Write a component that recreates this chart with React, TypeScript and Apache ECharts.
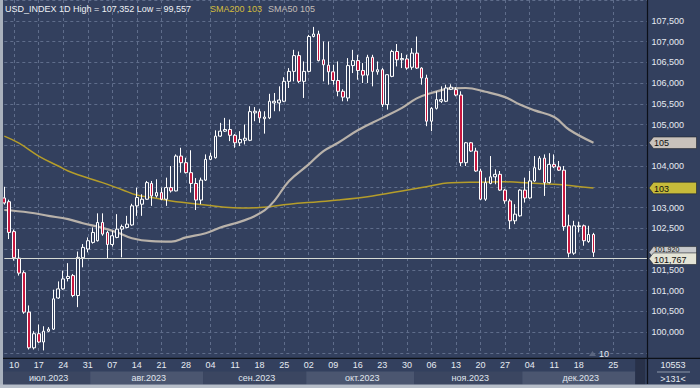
import React, { useEffect, useRef } from 'react';
import * as echarts from 'echarts';

// ---- OHLC values (Jul 6 .. Dec 21, 2023, trading days) ----
const opens = [
  103.23, 103.14, 102.42, 101.78, 101.43, 100.48, 99.62, 99.96, 99.76, 100.02,
  100.07, 100.82, 101.04, 101.29, 101.36, 100.88, 101.79, 102.0, 102.16, 102.2,
  102.64, 102.4, 102.11, 102.28, 102.48, 102.52, 102.58, 103.04, 103.08, 103.2,
  103.58, 103.28, 103.36, 103.2, 103.48, 103.4, 104.24, 104.08, 103.84, 103.58,
  103.18, 103.66, 104.16, 104.2, 104.72, 104.84, 104.88, 104.74, 104.56, 104.62,
  104.62, 105.28, 105.31, 105.14, 105.16, 105.52, 105.52, 105.56, 106.04, 106.28,
  106.66, 106.04, 106.28, 107.12, 107.18, 106.56, 106.43, 106.27, 106.06, 105.8,
  105.64, 106.42, 106.54, 106.3, 106.19, 106.62, 106.27, 106.32, 105.48, 106.16,
  106.76, 106.56, 106.58, 106.38, 106.72, 106.36, 106.12, 105.08, 105.39, 105.56,
  105.56, 105.85, 105.84, 105.71, 104.08, 104.56, 104.36, 103.88, 103.2, 103.58,
  103.74, 103.8, 103.42, 103.16, 102.68, 102.8, 103.42, 103.23, 103.64, 103.92,
  104.19, 103.6, 104.04, 103.98, 103.9, 102.56, 101.9, 102.54, 102.56, 102.18,
  102.35,
];
const closes = [
  103.11, 102.4, 101.79, 101.42, 100.48, 99.62, 99.96, 99.76, 100.02, 100.07,
  100.8, 101.04, 101.28, 101.34, 100.88, 101.8, 102.04, 102.2, 102.4, 102.64,
  102.36, 102.11, 102.32, 102.48, 102.54, 102.6, 103.04, 103.24, 103.2, 103.6,
  103.28, 103.36, 103.2, 103.48, 103.4, 104.24, 104.08, 103.84, 103.58, 103.18,
  103.66, 104.16, 104.24, 104.72, 104.84, 104.88, 104.74, 104.56, 104.64, 104.67,
  105.31, 105.32, 105.16, 105.18, 105.56, 105.56, 105.59, 106.04, 106.28, 106.66,
  106.04, 106.28, 107.12, 107.18, 106.54, 106.44, 106.27, 106.06, 105.8, 105.66,
  106.42, 106.54, 106.3, 106.19, 106.62, 106.28, 106.32, 105.48, 106.2, 106.76,
  106.56, 106.59, 106.36, 106.72, 106.36, 106.12, 105.08, 105.39, 105.6, 105.6,
  105.88, 105.9, 105.71, 104.08, 104.56, 104.36, 103.88, 103.2, 103.6, 103.74,
  103.8, 103.42, 103.16, 102.68, 102.84, 103.42, 103.23, 103.64, 103.96, 104.19,
  103.6, 104.04, 103.98, 103.9, 102.54, 101.9, 102.56, 102.56, 102.2, 102.35,
  101.92,
];
const lows = [
  103.07, 102.24, 101.72, 101.36, 100.44, 99.58, 99.58, 99.74, 99.557, 100.0,
  100.05, 100.8, 101.02, 101.22, 100.84, 100.6, 101.56, 101.92, 102.13, 102.18,
  102.32, 101.76, 102.06, 102.26, 101.8, 102.5, 102.56, 102.8, 102.8, 103.19,
  103.04, 103.24, 103.18, 103.04, 103.36, 103.39, 103.84, 103.82, 103.36, 102.94,
  103.08, 103.64, 104.14, 104.18, 104.7, 104.82, 104.6, 104.44, 104.48, 104.52,
  104.6, 105.08, 105.04, 104.78, 105.13, 105.32, 105.32, 105.54, 105.88, 106.04,
  106.0, 105.64, 106.26, 107.1, 106.52, 106.04, 105.96, 105.96, 105.68, 105.56,
  105.56, 106.24, 106.08, 106.0, 106.0, 105.92, 106.2, 105.42, 105.36, 106.14,
  106.4, 106.36, 106.32, 106.32, 106.34, 105.96, 104.96, 104.84, 105.36, 105.52,
  105.54, 105.83, 105.68, 104.0, 104.0, 104.34, 103.86, 103.18, 103.16, 103.56,
  103.56, 103.4, 103.09, 102.48, 102.6, 102.78, 103.12, 103.21, 103.62, 103.9,
  103.28, 103.58, 103.95, 103.88, 102.44, 101.8, 101.86, 102.4, 102.08, 102.15,
  101.81,
];
const highs = [
  103.5, 103.19, 102.47, 102.0, 101.48, 100.64, 100.02, 100.18, 100.14, 100.12,
  101.02, 101.22, 101.48, 101.66, 101.4, 101.94, 102.12, 102.28, 102.52, 102.86,
  102.86, 102.44, 102.44, 102.84, 102.59, 102.8, 103.09, 103.48, 103.32, 103.64,
  103.64, 103.68, 103.48, 103.72, 104.0, 104.28, 104.44, 104.2, 104.38, 103.71,
  103.72, 104.28, 104.32, 104.86, 105.04, 105.16, 105.12, 104.77, 104.84, 105.0,
  105.44, 105.42, 105.37, 105.32, 105.74, 105.76, 105.92, 106.14, 106.36, 106.8,
  106.76, 106.52, 107.16, 107.352, 107.26, 107.0, 107.0, 106.44, 106.52, 105.85,
  106.6, 106.8, 106.68, 106.48, 106.68, 106.68, 106.52, 106.36, 106.21, 106.8,
  106.94, 106.72, 106.68, 106.84, 107.12, 106.38, 106.2, 105.42, 105.8, 105.92,
  105.96, 105.97, 105.9, 105.8, 104.58, 104.58, 104.44, 103.93, 103.72, 104.24,
  103.92, 103.88, 103.45, 103.21, 103.08, 103.44, 103.72, 103.88, 104.24, 104.24,
  104.28, 104.31, 104.28, 104.12, 104.0, 102.83, 102.68, 102.66, 102.59, 102.56,
  102.39,
];

// ---- moving averages: [bar index, value] ----
const sma50: [number, number][] = [
  [0, 102.94], [5, 102.88], [9, 102.8], [13, 102.72], [16, 102.62], [20, 102.51],
  [23, 102.4], [26, 102.26], [30, 102.19], [34, 102.18], [37, 102.28], [41, 102.38],
  [44, 102.52], [47, 102.62], [50, 102.74], [53, 102.93], [55, 103.16], [58, 103.64],
  [62, 104.04], [65, 104.36], [68, 104.56], [72, 104.86], [77, 105.16], [81, 105.4],
  [84, 105.63], [87, 105.76], [91, 105.87], [94, 105.88], [98, 105.79], [102, 105.66],
  [105, 105.48], [108, 105.34], [112, 105.18], [115, 104.88], [120, 104.56],
];
const sma200: [number, number][] = [
  [0, 104.72], [3, 104.55], [7, 104.24], [11, 104.0], [13, 103.88], [15, 103.79],
  [20, 103.6], [24, 103.43], [27, 103.3], [30, 103.24], [34, 103.16], [41, 103.06],
  [44, 103.02], [48, 102.99], [52, 103.0], [58, 103.08], [64, 103.14], [68, 103.18],
  [75, 103.28], [81, 103.4], [85, 103.48], [91, 103.6], [97, 103.61], [102, 103.62],
  [107, 103.59], [112, 103.56], [116, 103.52], [120, 103.47],
];

const priceLine = 101.767;
const hiddenYLabels = [99.5, 102.0, 103.5, 104.5, 108];
const monthNames = ['июл.2023', 'авг.2023', 'сен.2023', 'окт.2023', 'ноя.2023', 'дек.2023'];
const headerMain = 'USD_INDEX 1D High = 107,352 Low = 99,557';
const headerSma200 = 'SMA200 103';
const headerSma50 = 'SMA50 105';
const barsCount = '10553';
const barsInfo = '>131<';
const shiftLabel = '10';

// category axis: trading days Jul 6 .. Dec 21, then calendar days to Jan 1
function buildDates(): string[] {
  const out: string[] = [];
  const d = new Date(Date.UTC(2023, 6, 6));
  const endTrade = Date.UTC(2023, 11, 21);
  while (d.getTime() <= endTrade) {
    const wd = d.getUTCDay();
    if (wd !== 0 && wd !== 6) out.push(d.toISOString().slice(0, 10));
    d.setUTCDate(d.getUTCDate() + 1);
  }
  const endFuture = Date.UTC(2024, 0, 1);
  while (d.getTime() <= endFuture) {
    out.push(d.toISOString().slice(0, 10));
    d.setUTCDate(d.getUTCDate() + 1);
  }
  return out;
}
const dates = buildDates();

const BG = '#33405e';
const GRID = '#5f6d8b';
const FONT = '"Liberation Sans", Arial, sans-serif';

export default function App() {
  const ref = useRef<HTMLDivElement>(null);
  useEffect(() => {
    document.body.style.margin = '0';
    if (!ref.current) return;
    const chart = echarts.init(ref.current, undefined, { renderer: 'svg' });
    const isMonday = (idx: number) =>
      idx < 126 && new Date(dates[idx] + 'T00:00:00Z').getUTCDay() === 1;

    const candle = opens.map((o, i) => [o, closes[i], lows[i], highs[i]]);

    chart.setOption({
      animation: false,
      backgroundColor: BG,
      grid: { left: 4.3, right: 52.5, top: -1.2, bottom: 35.2, containLabel: false },
      xAxis: {
        type: 'category',
        data: dates,
        boundaryGap: false,
        axisLine: { show: false },
        axisTick: { show: false },
        axisLabel: {
          interval: (idx: number) => isMonday(idx),
          formatter: (v: string) => v.slice(8, 10),
          color: '#e6ebf2',
          fontSize: 9,
          fontFamily: FONT,
          margin: 8,
        },
        splitLine: {
          show: true,
          interval: (idx: number) => isMonday(idx),
          lineStyle: { color: GRID, type: [3, 3], width: 1 },
        },
      },
      yAxis: {
        type: 'value',
        position: 'right',
        min: 99.5,
        max: 108,
        interval: 0.5,
        axisLine: { show: false },
        axisTick: { show: false },
        axisLabel: {
          showMaxLabel: false,
          color: '#e6ebf2',
          fontSize: 9,
          fontFamily: FONT,
          margin: 4,
          formatter: (v: number) =>
            hiddenYLabels.some((h) => Math.abs(h - v) < 1e-6) ? '' : v.toFixed(3).replace('.', ','),
        },
        splitLine: { show: true, lineStyle: { color: GRID, type: [3, 3], width: 1 } },
      },
      series: [
        {
          type: 'line',
          data: sma200,
          smooth: 0.4,
          symbol: 'none',
          z: 1,
          lineStyle: { color: '#b59d2a', width: 1.5 },
        },
        {
          type: 'line',
          data: sma50,
          smooth: 0.4,
          symbol: 'none',
          z: 1,
          lineStyle: { color: '#b9b2aa', width: 2.2 },
        },
        {
          type: 'candlestick',
          data: candle,
          barWidth: 3.2,
          z: 3,
          itemStyle: {
            color: BG,
            color0: '#c8173f',
            borderColor: '#ffffff',
            borderColor0: '#ffffff',
            borderWidth: 1,
          },
          markLine: {
            silent: true,
            symbol: ['none', 'none'],
            label: { show: false },
            lineStyle: { color: '#d6dad4', width: 1, type: 'solid' },
            data: [{ yAxis: priceLine }],
          },
        },
      ],
    });

    const px = (i: number) => chart.convertToPixel({ xAxisIndex: 0 }, i) as number;
    const py = (v: number) => chart.convertToPixel({ yAxisIndex: 0 }, v) as number;
    const mid = (i: number) => (px(i) + px(i + 1)) / 2;

    const els: any[] = [];
    // month bands
    const starts: number[] = [];
    for (let i = 0; i < 121; i++) {
      if (i === 0 || dates[i].slice(5, 7) !== dates[i - 1].slice(5, 7)) starts.push(i);
    }
    const decEnd = dates.indexOf('2023-12-29');
    starts.forEach((s, k) => {
      const x0 = s === 0 ? 3 : mid(s - 1);
      const x1 = k + 1 < starts.length ? mid(starts[k + 1] - 1) : mid(decEnd);
      els.push({
        type: 'rect', z: 50,
        shape: { x: x0, y: 371.5, width: x1 - x0, height: 13 },
        style: { fill: k % 2 === 0 ? '#3b4661' : '#4b5670' },
      });
      els.push({
        type: 'text', z: 51, x: (x0 + x1) / 2 + 2, y: 378,
        style: { text: monthNames[k], fill: '#e0e6ee', font: '9px ' + FONT, align: 'center', verticalAlign: 'middle' },
      });
    });
    const x129 = mid(decEnd);
    const x131 = mid(dates.indexOf('2023-12-31'));
    els.push({ type: 'rect', z: 50, shape: { x: x129, y: 358.5, width: x131 - x129, height: 26 }, style: { fill: '#283149' } });
    // axis frame lines
    els.push({ type: 'line', z: 60, shape: { x1: 0, y1: 358.3, x2: 700, y2: 358.3 }, style: { stroke: '#0c1018', lineWidth: 1.2 } });
    els.push({ type: 'line', z: 60, shape: { x1: 647.5, y1: 0, x2: 647.5, y2: 384 }, style: { stroke: '#0c1018', lineWidth: 1.2 } });
    // right-bottom box
    els.push({ type: 'text', z: 61, x: 673, y: 365, style: { text: barsCount, fill: '#e6ebf2', font: '9px ' + FONT, align: 'center', verticalAlign: 'middle' } });
    els.push({ type: 'line', z: 61, shape: { x1: 657, y1: 372, x2: 690, y2: 372 }, style: { stroke: '#8d97aa', lineWidth: 1 } });
    els.push({ type: 'text', z: 61, x: 673, y: 378.5, style: { text: barsInfo, fill: '#e6ebf2', font: '9px ' + FONT, align: 'center', verticalAlign: 'middle' } });
    // outer frame
    els.push({ type: 'rect', z: 70, shape: { x: 0, y: 0, width: 3, height: 388 }, style: { fill: '#a9b1bd' } });
    els.push({ type: 'rect', z: 70, shape: { x: 0, y: 384.5, width: 700, height: 3.5 }, style: { fill: '#b7bec9' } });
    // shift marker
    els.push({ type: 'polygon', z: 61, shape: { points: [[589, 356], [592.5, 351], [596, 356]] }, style: { fill: '#5b6680' } });
    els.push({ type: 'text', z: 61, x: 599, y: 353.5, style: { text: shiftLabel, fill: '#e6ebf2', font: '9px ' + FONT, verticalAlign: 'middle' } });
    // price tags
    const tag = (v: number, fill: string, text: string, z: number, dy: number, size: number) => {
      const y = py(v);
      els.push({
        type: 'polygon', z,
        shape: { points: [[649, y], [653.5, y - 5.8], [696.5, y - 5.8], [696.5, y + 5.8], [653.5, y + 5.8]] },
        style: { fill, stroke: '#20242c', lineWidth: 0.6 },
      });
      els.push({ type: 'text', z: z + 1, x: 654, y: y + dy, style: { text, fill: '#101010', font: size + 'px ' + FONT, verticalAlign: 'middle' } });
    };
    const lastClose = closes[closes.length - 1];
    tag(lastClose, '#c7c9cc', lastClose.toFixed(3).replace('.', ','), 80, -3.2, 7);
    tag(priceLine, '#e4e4d6', priceLine.toFixed(3).replace('.', ','), 82, 1, 9);
    tag(sma50[sma50.length - 1][1], '#c9c2bb', String(Math.round(sma50[sma50.length - 1][1])), 84, 0.5, 9);
    tag(sma200[sma200.length - 1][1], '#c7bb3a', String(Math.round(sma200[sma200.length - 1][1])), 86, 0.5, 9);
    // header
    els.push({ type: 'text', z: 90, x: 5, y: 8.5, style: { text: headerMain, fill: '#eef1f5', font: '9px ' + FONT, verticalAlign: 'middle' } });
    els.push({ type: 'text', z: 90, x: 210, y: 8.5, style: { text: headerSma200, fill: '#d3bd3c', font: '9px ' + FONT, verticalAlign: 'middle' } });
    els.push({ type: 'text', z: 90, x: 268, y: 8.5, style: { text: headerSma50, fill: '#c2bcb6', font: '9px ' + FONT, verticalAlign: 'middle' } });

    chart.setOption({ graphic: { elements: els } });
    return () => chart.dispose();
  }, []);
  return <div ref={ref} style={{ width: 700, height: 388 }} />;
}
